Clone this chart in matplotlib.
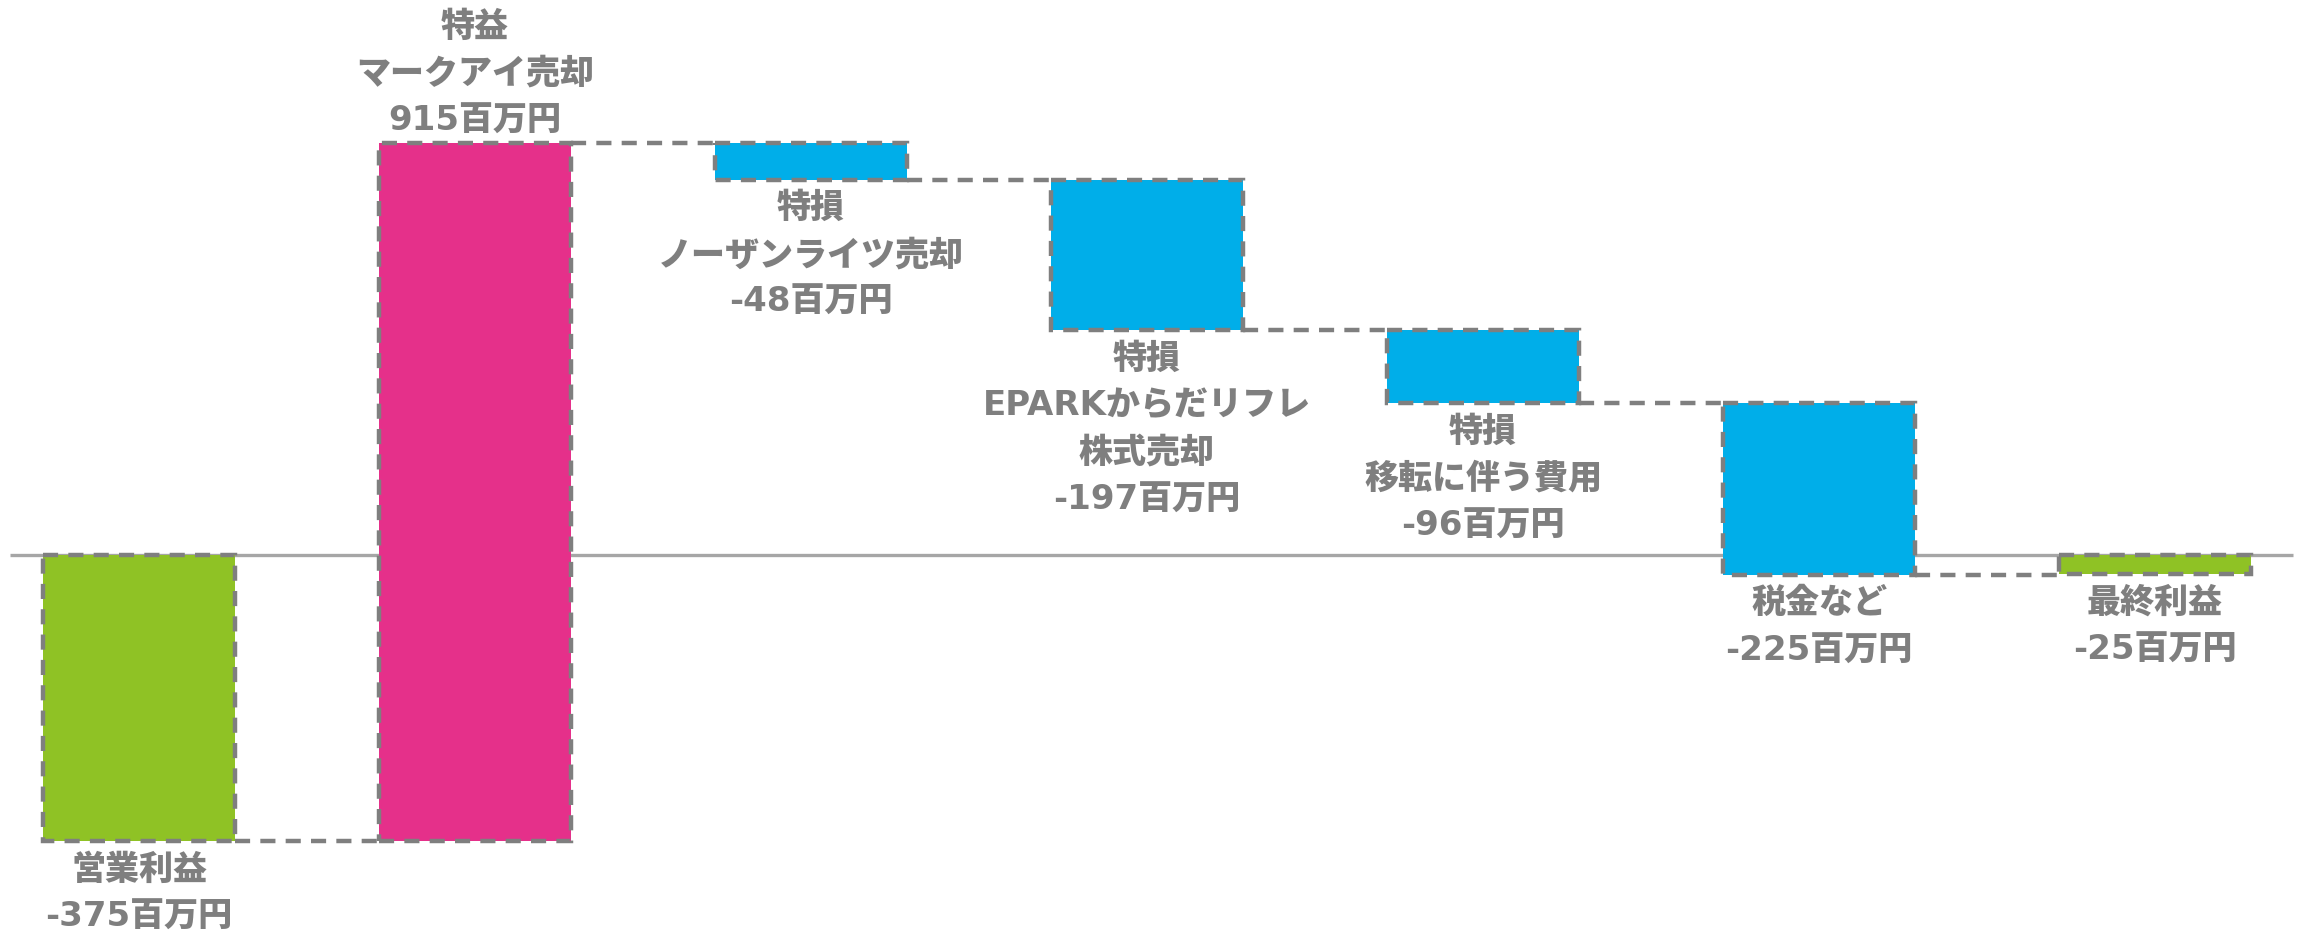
import matplotlib
matplotlib.use("Agg")
import matplotlib.pyplot as plt

plt.rcParams['font.family'] = ['DejaVu Sans', 'Noto Sans CJK JP']

# ---- data ----
values = [-375, 915, -48, -197, -96, -225, -25]
kinds = ["total", "delta", "delta", "delta", "delta", "delta", "total"]
titles = [
    ["営業利益"],
    ["特益", "マークアイ売却"],
    ["特損", "ノーザンライツ売却"],
    ["特損", "EPARKからだリフレ", "株式売却"],
    ["特損", "移転に伴う費用"],
    ["税金など"],
    ["最終利益"],
]
unit = "百万円"
colors = ["#8FC225", "#E5308A", "#00AEE9", "#00AEE9", "#00AEE9", "#00AEE9", "#8FC225"]

# ---- waterfall geometry ----
bottoms, heights, ends = [], [], []
running = 0
for v, k in zip(values, kinds):
    if k == "total":
        b, h = 0, v
        running = v
    else:
        b, h = running, v
        running = running + v
    bottoms.append(b)
    heights.append(h)
    ends.append(running)

fig = plt.figure(figsize=(23, 9.35), dpi=100)
ax = fig.add_axes([0, 0, 1, 1])
ax.set_axis_off()
ax.set_xlim(-0.4137, 6.4315)
ax.set_ylim(-498.0, 727.4)

x = list(range(len(values)))
width = 0.574
edge = "#7F7F7F"
dash = (0, (3.4, 2.3))
lw = 3.2

# zero line
ax.plot([-0.384, 6.4107], [0, 0], color="#A6A6A6", lw=2.4, zorder=1, solid_capstyle="butt")

bars = ax.bar(x, heights, bottom=bottoms, width=width, color=colors,
              edgecolor=edge, linewidth=lw, linestyle=dash, zorder=2)

# connectors
for i in range(len(values) - 1):
    ax.plot([x[i] + width / 2, x[i + 1] - width / 2], [ends[i], ends[i]],
            color=edge, lw=lw, linestyle=dash, zorder=2)

# labels
fs = 24.5
gap_first = 29
spacing = 47
for i, (v, t) in enumerate(zip(values, titles)):
    lines = t + [f"{v}{unit}"]
    top = max(bottoms[i], bottoms[i] + heights[i])
    bot = min(bottoms[i], bottoms[i] + heights[i])
    n = len(lines)
    for j, line in enumerate(lines):
        if v > 0:
            y = top
            off = 22 + spacing * (n - 1 - j)
        else:
            y = bot
            off = -(gap_first + spacing * j)
        ax.annotate(line, xy=(x[i], y), xytext=(0, off), textcoords="offset pixels",
                    ha="center", va="center", fontsize=fs, fontweight="black",
                    color="#7F7F7F", zorder=3)

fig.savefig("out.png", dpi=100)
